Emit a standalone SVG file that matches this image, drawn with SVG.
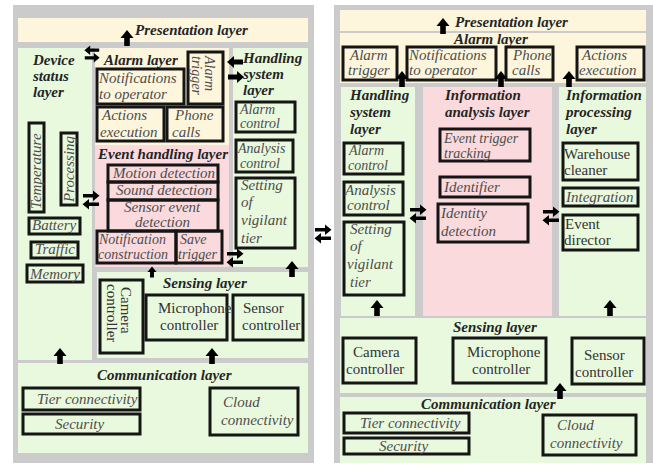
<svg xmlns="http://www.w3.org/2000/svg" xmlns:xlink="http://www.w3.org/1999/xlink" width="653" height="466" viewBox="0 0 653 466">
  <style>
    .frame { fill: #cbcbcb; }
    .cream { fill: #fdf6dd; }
    .green { fill: #e9f9de; }
    .pink { fill: #fadadc; }
    .bx { fill: none; stroke: #151515; stroke-width: 3; }
    .lbl { font-family: "Liberation Serif", serif; font-weight: bold; font-style: italic; font-size: 15px; fill: #242424; }
    .t { font-family: "Liberation Serif", serif; font-style: italic; font-size: 15px; fill: #4d4d4d; }
    .s { font-size: 14px; }
    .u { font-family: "Liberation Serif", serif; font-size: 15px; fill: #333; }
    .arr { fill: #000; }
  </style>
  <defs>
    <path id="up" class="arr" d="M0,-8 L6.5,0 L2.8,0 L2.8,8 L-2.8,8 L-2.8,0 L-6.5,0Z"/>
    <path id="ra" class="arr" d="M8,0 L1,-6 L1,-2.6 L-8,-2.6 L-8,2.6 L1,2.6 L1,6Z"/>
    <g id="dbl">
      <path class="arr" d="M-8,-6 L2,-6 L2,-9.5 L8.5,-4.2 L2,1 L2,-2.5 L-8,-2.5Z"/>
      <path class="arr" d="M8,2.5 L-2,2.5 L-2,-1 L-8.5,4.2 L-2,9.5 L-2,6 L8,6Z"/>
    </g>
  </defs>

  <!-- ===== Left architecture ===== -->
  <rect class="frame" x="13" y="5" width="301" height="458"/>

  <g id="L-presentation">
    <rect class="cream" x="18" y="18" width="290" height="24"/>
    <text class="lbl" x="135" y="35" font-size="16">Presentation layer</text>
  </g>

  <g id="L-device-status">
    <rect class="green" x="18" y="48" width="74" height="312"/>
    <text class="lbl" x="33" y="65">Device</text>
    <text class="lbl" x="33" y="81">status</text>
    <text class="lbl" x="33" y="97">layer</text>
    <rect class="bx" x="29" y="123" width="15" height="89"/>
    <text class="t" transform="translate(41,209) rotate(-90)">Temperature</text>
    <rect class="bx" x="61" y="133" width="16" height="72"/>
    <text class="t" transform="translate(74,202) rotate(-90)">Processing</text>
    <rect class="bx" x="29" y="218" width="51" height="16"/>
    <text class="t" x="32" y="230">Battery</text>
    <rect class="bx" x="31" y="242" width="47" height="16"/>
    <text class="t" x="35" y="254">Traffic</text>
    <rect class="bx" x="27" y="265" width="56" height="17"/>
    <text class="t" x="30" y="279">Memory</text>
  </g>

  <g id="L-alarm">
    <rect class="cream" x="95" y="48" width="134" height="97"/>
    <text class="lbl" x="104" y="65">Alarm layer</text>
    <rect class="bx" x="188" y="52" width="35" height="52"/>
    <text class="t s" transform="translate(205,56) rotate(90)">Alarm</text>
    <text class="t s" transform="translate(192,56) rotate(90)">trigger</text>
    <rect class="bx" x="97" y="69" width="87" height="35"/>
    <text class="t" x="99" y="83">Notifications</text>
    <text class="t" x="99" y="99">to operator</text>
    <rect class="bx" x="97" y="107" width="67" height="34"/>
    <text class="t" x="102" y="120">Actions</text>
    <text class="t" x="100" y="137">execution</text>
    <rect class="bx" x="167" y="107" width="56" height="34"/>
    <text class="t" x="175" y="120">Phone</text>
    <text class="t" x="172" y="137">calls</text>
  </g>

  <g id="L-event-handling">
    <rect class="pink" x="95" y="145" width="134" height="122"/>
    <text class="lbl" x="98" y="159">Event handling layer</text>
    <rect class="bx" x="108" y="165" width="110" height="17"/>
    <text class="t" x="113" y="178">Motion detection</text>
    <rect class="bx" x="108" y="182" width="110" height="18"/>
    <text class="t" x="116" y="195">Sound detection</text>
    <rect class="bx" x="108" y="200" width="110" height="31"/>
    <text class="t" x="124" y="212">Sensor event</text>
    <text class="t" x="135" y="227">detection</text>
    <rect class="bx" x="97" y="231" width="79" height="32"/>
    <text class="t s" x="99" y="244">Notification</text>
    <text class="t s" x="98" y="259">construction</text>
    <rect class="bx" x="176" y="231" width="46" height="32"/>
    <text class="t s" x="180" y="244">Save</text>
    <text class="t s" x="178" y="259">trigger</text>
  </g>

  <g id="L-handling-system">
    <rect class="green" x="233" y="48" width="75" height="219"/>
    <text class="lbl" x="243" y="63">Handling</text>
    <text class="lbl" x="243" y="79">system</text>
    <text class="lbl" x="243" y="95">layer</text>
    <rect class="bx" x="236" y="102" width="59" height="30"/>
    <text class="t s" x="240" y="114">Alarm</text>
    <text class="t s" x="240" y="128">control</text>
    <rect class="bx" x="236" y="140" width="57" height="32"/>
    <text class="t s" x="238" y="153">Analysis</text>
    <text class="t s" x="240" y="168">control</text>
    <rect class="bx" x="236" y="178" width="59" height="70"/>
    <text class="t" x="241" y="190">Setting</text>
    <text class="t" x="241" y="207">of</text>
    <text class="t" x="241" y="225">vigilant</text>
    <text class="t" x="241" y="243">tier</text>
  </g>

  <g id="L-sensing">
    <rect class="green" x="97" y="272" width="211" height="86"/>
    <text class="lbl" x="163" y="288">Sensing layer</text>
    <rect class="bx" x="100" y="280" width="43" height="73"/>
    <text class="u" transform="translate(121,287) rotate(90)">Camera</text>
    <text class="u" transform="translate(107,284) rotate(90)">controller</text>
    <rect class="bx" x="146" y="295" width="81" height="45"/>
    <text class="u" x="158" y="313">Microphone</text>
    <text class="u" x="160" y="330">controller</text>
    <rect class="bx" x="233" y="295" width="70" height="45"/>
    <text class="u" x="243" y="313">Sensor</text>
    <text class="u" x="242" y="330">controller</text>
  </g>

  <g id="L-communication">
    <rect class="green" x="18" y="363" width="290" height="90"/>
    <text class="lbl" x="97" y="380" font-size="16">Communication layer</text>
    <rect class="bx" x="23" y="388" width="117" height="22"/>
    <text class="t" x="37" y="404">Tier connectivity</text>
    <rect class="bx" x="23" y="414" width="117" height="20"/>
    <text class="t" x="55" y="429">Security</text>
    <rect class="bx" x="210" y="388" width="88" height="47"/>
    <text class="t" x="223" y="407">Cloud</text>
    <text class="t" x="221" y="425">connectivity</text>
  </g>

  <!-- ===== Right architecture ===== -->
  <rect class="frame" x="334" y="5" width="319" height="458"/>

  <g id="R-presentation">
    <rect class="cream" x="340" y="10" width="306" height="21"/>
    <text class="lbl" x="455" y="27" font-size="16">Presentation layer</text>
  </g>

  <g id="R-alarm">
    <rect class="cream" x="340" y="33" width="306" height="50"/>
    <text class="lbl" x="454" y="44">Alarm layer</text>
    <rect class="bx" x="343" y="47" width="54" height="33"/>
    <text class="t" x="350" y="60">Alarm</text>
    <text class="t" x="348" y="75">trigger</text>
    <rect class="bx" x="407" y="47" width="89" height="33"/>
    <text class="t" x="409" y="60">Notifications</text>
    <text class="t" x="409" y="75">to operator</text>
    <rect class="bx" x="506" y="47" width="47" height="33"/>
    <text class="t" x="513" y="60">Phone</text>
    <text class="t" x="512" y="75">calls</text>
    <rect class="bx" x="577" y="47" width="67" height="33"/>
    <text class="t" x="582" y="60">Actions</text>
    <text class="t" x="579" y="75">execution</text>
  </g>

  <g id="R-handling-system">
    <rect class="green" x="341" y="87" width="74" height="229"/>
    <text class="lbl" x="350" y="100">Handling</text>
    <text class="lbl" x="350" y="117">system</text>
    <text class="lbl" x="350" y="134">layer</text>
    <rect class="bx" x="344" y="143" width="59" height="31"/>
    <text class="t s" x="349" y="155">Alarm</text>
    <text class="t s" x="348" y="170">control</text>
    <rect class="bx" x="344" y="182" width="59" height="33"/>
    <text class="t" x="345" y="195">Analysis</text>
    <text class="t" x="347" y="210">control</text>
    <rect class="bx" x="344" y="222" width="60" height="73"/>
    <text class="t" x="350" y="234">Setting</text>
    <text class="t" x="350" y="251">of</text>
    <text class="t" x="347" y="269">vigilant</text>
    <text class="t" x="350" y="287">tier</text>
  </g>

  <g id="R-information-analysis">
    <rect class="pink" x="423" y="87" width="129" height="229"/>
    <text class="lbl" x="445" y="100">Information</text>
    <text class="lbl" x="445" y="117">analysis layer</text>
    <rect class="bx" x="440" y="129" width="90" height="32"/>
    <text class="t s" x="444" y="143">Event trigger</text>
    <text class="t s" x="444" y="158">tracking</text>
    <rect class="bx" x="440" y="177" width="90" height="20"/>
    <text class="t" x="444" y="192">Identifier</text>
    <rect class="bx" x="438" y="204" width="90" height="38"/>
    <text class="t" x="441" y="218">Identity</text>
    <text class="t" x="441" y="236">detection</text>
  </g>

  <g id="R-information-processing">
    <rect class="green" x="559" y="87" width="87" height="229"/>
    <text class="lbl" x="566" y="100">Information</text>
    <text class="lbl" x="566" y="117">processing</text>
    <text class="lbl" x="566" y="134">layer</text>
    <rect class="bx" x="563" y="143" width="75" height="37"/>
    <text class="u" x="564" y="159">Warehouse</text>
    <text class="u" x="564" y="175">cleaner</text>
    <rect class="bx" x="563" y="188" width="75" height="18"/>
    <text class="t" x="566" y="202">Integration</text>
    <rect class="bx" x="563" y="215" width="75" height="35"/>
    <text class="u" x="565" y="229">Event</text>
    <text class="u" x="564" y="245">director</text>
  </g>

  <g id="R-sensing">
    <rect class="green" x="340" y="318" width="306" height="75"/>
    <text class="lbl" x="453" y="332">Sensing layer</text>
    <rect class="bx" x="343" y="338" width="73" height="45"/>
    <text class="u" x="353" y="357">Camera</text>
    <text class="u" x="346" y="374">controller</text>
    <rect class="bx" x="453" y="338" width="93" height="45"/>
    <text class="u" x="467" y="357">Microphone</text>
    <text class="u" x="472" y="374">controller</text>
    <rect class="bx" x="572" y="338" width="72" height="46"/>
    <text class="u" x="584" y="360">Sensor</text>
    <text class="u" x="575" y="377">controller</text>
  </g>

  <g id="R-communication">
    <rect class="green" x="340" y="397" width="306" height="66"/>
    <text class="lbl" x="421" y="409" font-size="16">Communication layer</text>
    <rect class="bx" x="344" y="413" width="125" height="20"/>
    <text class="t" x="360" y="428">Tier connectivity</text>
    <rect class="bx" x="344" y="438" width="125" height="16"/>
    <text class="t" x="379" y="451">Security</text>
    <rect class="bx" x="543" y="415" width="93" height="40"/>
    <text class="t" x="557" y="430">Cloud</text>
    <text class="t" x="550" y="448">connectivity</text>
  </g>

  <!-- ===== Connectors ===== -->
  <g id="connectors">
    <!-- left -->
    <use href="#up" transform="translate(127,38)"/>
    <use href="#dbl" transform="translate(92,54) scale(-0.9,0.9)"/>
    <use href="#ra" transform="translate(235,62) scale(-1,1)"/>
    <use href="#ra" transform="translate(236,77)"/>
    <use href="#dbl" transform="translate(91,200)"/>
    <use href="#dbl" transform="translate(235,258)"/>
    <use href="#up" transform="translate(292,269)"/>
    <use href="#up" transform="translate(152,272) scale(0.7)"/>
    <use href="#up" transform="translate(60,356)"/>
    <use href="#up" transform="translate(212,356)"/>
    <!-- between architectures -->
    <use href="#dbl" transform="translate(323,234)"/>
    <!-- right -->
    <use href="#up" transform="translate(443,26)"/>
    <use href="#up" transform="translate(402,79)"/>
    <use href="#up" transform="translate(501,79)"/>
    <use href="#up" transform="translate(569,79)"/>
    <use href="#dbl" transform="translate(418,214)"/>
    <use href="#dbl" transform="translate(551,216)"/>
    <use href="#up" transform="translate(377,308)"/>
    <use href="#up" transform="translate(610,308)"/>
    <use href="#up" transform="translate(560,391)"/>
  </g>
</svg>
